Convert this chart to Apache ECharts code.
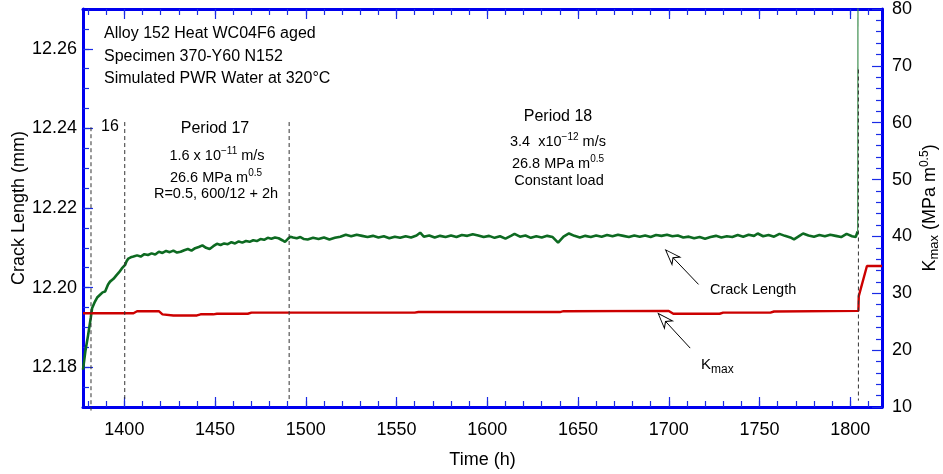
<!DOCTYPE html>
<html><head><meta charset="utf-8">
<script src="https://cdn.jsdelivr.net/npm/echarts@6/dist/echarts.min.js"></script>
<style>html,body{margin:0;padding:0;background:#fff}#c{width:943px;height:474px}</style>
</head><body><div id="c"></div>
<script>
// ---------- DATA ----------
const crackTime = [1377.2,1378.5,1380,1381.5,1382.2,1383.8,1385,1386.6,1388,1389.4,1391,1392.1,1394,1395.8,1397,1398.6,1400.4,1401.2,1402.2,1403.5,1405,1407,1409,1411,1413,1415,1417,1419,1421,1423,1425,1427,1429,1431,1433,1435,1437,1439,1441,1443,1445,1447,1449,1451,1453,1455,1457,1459,1461,1463,1465,1467,1469,1471,1473,1475,1477,1479,1481,1483,1485,1487,1488.5,1490,1491.5,1493,1495,1497,1499,
1501,1504,1507,1510,1513,1516,1519,1522,1525,1528,1531,1534,1537,1540,1543,1546,1549,1552,1555,1558,1561,1563,1565,1568,1571,1574,1577,1580,1583,1586,1589,1592,1595,1598,1601,1604,1607,1610,1613,1615,1618,1621,1624,1627,1630,1633,1636,1639,1642,1645,1648,1651,1654,1657,1660,1663,1666,1669,1672,1675,1678,1681,1684,1687,1690,1693,1696,1699,1702,1705,1708,1711,1714,1717,1720,1723,1726,1729,1732,1735,1738,1741,1744,1747,1749,1752,1755,1758,1761,1764,1767,1769,1772,1774,1777,1780,1783,1786,1789,1792,1795,1798,1801,1803,1804.1];
const crackMm = [12.1794,12.1840,12.1880,12.1925,12.1948,12.1965,12.1975,12.1982,12.1988,12.1990,12.2008,12.2015,12.2022,12.2032,12.2038,12.2048,12.2057,12.2066,12.2073,12.2076,12.2078,12.2081,12.2078,12.2084,12.2082,12.2086,12.2083,12.2090,12.2087,12.2092,12.2089,12.2093,12.2088,12.2090,12.2094,12.2097,12.2093,12.2099,12.2102,12.2106,12.2100,12.2097,12.2104,12.2110,12.2107,12.2111,12.2109,12.2114,12.2111,12.2116,12.2113,12.2117,12.2115,12.2119,12.2117,12.2122,12.2120,12.2125,12.2123,12.2126,12.2124,12.2119,12.2115,12.2122,12.2128,12.2126,12.2124,12.2127,12.2122,
12.2121,12.2125,12.2122,12.2126,12.2121,12.2125,12.2128,12.2133,12.2129,12.2133,12.2130,12.2127,12.2130,12.2126,12.2129,12.2124,12.2128,12.2125,12.2129,12.2126,12.2131,12.2138,12.2128,12.2131,12.2126,12.2130,12.2127,12.2131,12.2127,12.2132,12.2130,12.2134,12.2131,12.2127,12.2130,12.2125,12.2129,12.2123,12.2130,12.2135,12.2128,12.2131,12.2125,12.2129,12.2126,12.2130,12.2127,12.2113,12.2128,12.2136,12.2130,12.2126,12.2130,12.2127,12.2131,12.2128,12.2132,12.2129,12.2133,12.2130,12.2127,12.2131,12.2128,12.2131,12.2127,12.2132,12.2130,12.2133,12.2129,12.2131,12.2126,12.2128,12.2124,12.2127,12.2123,12.2127,12.2130,12.2126,12.2129,12.2127,12.2132,12.2128,12.2133,12.2130,12.2136,12.2129,12.2132,12.2128,12.2135,12.2130,12.2126,12.2121,12.2130,12.2136,12.2131,12.2128,12.2132,12.2129,12.2133,12.2130,12.2127,12.2135,12.2129,12.2127,12.2141];
const spikeTime = [1804.1, 1804.6];
const spikeMm = [12.2141, 12.40];
const kmaxTime = [1377.2,1405,1407,1419,1421,1427,1440,1442,1449,1451,1468,1470,1560,1562,1640,1642,1700,1702.5,1728,1730,1756,1758,1804.5,1804.7,1809.2,1817.5];
const kmaxValue = [26.5,26.5,26.85,26.85,26.3,26.1,26.1,26.3,26.3,26.4,26.4,26.6,26.6,26.7,26.7,26.85,26.9,26.4,26.4,26.6,26.6,26.8,26.9,29.5,34.8,34.8];
const periodLineTime = [1381.6, 1400.2, 1490.8, 1804.5];
const periodLineTop = [12.2403, 12.2416, 12.2416, 12.2548];
const periodLineBottom = [12.1691, 12.1716, 12.1716, 12.1716];
const xTickLabels = [1400,1450,1500,1550,1600,1650,1700,1750,1800];
const yLeftTickLabels = [12.18,12.20,12.22,12.24,12.26];
const yLeftMinorTicks = [12.175,12.18,12.185,12.19,12.195,12.20,12.205,12.21,12.215,12.22,12.225,12.23,12.235,12.24,12.245,12.25,12.255,12.26,12.265];
const xMinorTicks = [1380,1390,1400,1410,1420,1430,1440,1450,1460,1470,1480,1490,1500,1510,1520,1530,1540,1550,1560,1570,1580,1590,1600,1610,1620,1630,1640,1650,1660,1670,1680,1690,1700,1710,1720,1730,1740,1750,1760,1770,1780,1790,1800,1810];
// arrows: [tail, head] in (h, mm)
const crackArrow = [[1716.4, 12.2008], [1701.1, 12.2081]];
const kmaxArrow = [[1711.8, 12.1848], [1697.0, 12.1921]];

// ---------- STYLE ----------
const FF = "'Liberation Sans', Arial, sans-serif";
const BLUE = '#0000ee';
const TICK = '#1a2be6';
const X_MIN = 1377.2, X_MAX = 1817.5;
const Y_MIN = 12.17, Y_MAX = 12.27;

const zip = (a, b) => a.map((v, i) => [v, b[i]]);

function xAx(pos, major, extra) {
  return Object.assign({
    type: 'value', position: pos, min: X_MIN, max: X_MAX, gridIndex: 0,
    splitLine: {show: false},
    axisLine: {show: major, onZero: false, lineStyle: {color: BLUE, width: 3}},
    axisTick: {show: true, inside: true, length: major ? 10 : 6, customValues: major ? xTickLabels : xMinorTicks, lineStyle: {color: TICK, width: 1.2}},
    axisLabel: {show: false}
  }, extra || {});
}

const xAxes = [
  xAx('bottom', true, {
    axisLabel: {show: true, customValues: xTickLabels, formatter: v => String(v), margin: 14, fontSize: 18, fontFamily: FF, color: '#000', lineHeight: 18},
    name: 'Time (h)', nameLocation: 'middle', nameGap: 43, nameMoveOverlap: false,
    nameTextStyle: {fontSize: 18, fontFamily: FF, color: '#000', lineHeight: 20}
  }),
  xAx('bottom', false),
  xAx('top', true),
  xAx('top', false)
];

const yAxes = [
  {
    type: 'value', position: 'left', min: Y_MIN, max: Y_MAX, gridIndex: 0,
    splitLine: {show: false},
    axisLine: {show: true, onZero: false, lineStyle: {color: BLUE, width: 3}},
    axisTick: {show: true, inside: true, length: 10, customValues: yLeftTickLabels, lineStyle: {color: TICK, width: 1.2}},
    axisLabel: {show: true, customValues: yLeftTickLabels, formatter: v => v.toFixed(2), margin: 6, fontSize: 18, fontFamily: FF, color: '#000'},
    name: 'Crack Length (mm)', nameLocation: 'middle', nameGap: 54, nameMoveOverlap: false,
    nameTextStyle: {fontSize: 18, fontFamily: FF, color: '#000', lineHeight: 20}
  },
  {
    type: 'value', position: 'right', min: 10, max: 80, interval: 10, gridIndex: 0,
    splitLine: {show: false},
    axisLine: {show: true, onZero: false, lineStyle: {color: BLUE, width: 3}},
    axisTick: {show: true, inside: true, length: 10, lineStyle: {color: TICK, width: 1.2}},
    minorTick: {show: true, splitNumber: 5, length: 6, lineStyle: {color: TICK, width: 1.2}},
    minorSplitLine: {show: false},
    axisLabel: {show: true, margin: 10, fontSize: 18, fontFamily: FF, color: '#000'},
    name: '{k|K}{sub|max}{m| (MPa m}{s|0.5}{m|)}', nameLocation: 'middle', nameGap: 37, nameRotate: 90, nameMoveOverlap: false,
    nameTextStyle: {
      color: '#000', fontFamily: FF, fontSize: 18,
      rich: {
        k: {fontSize: 18, fontFamily: FF, lineHeight: 22, color: '#000'},
        sub: {fontSize: 13, fontFamily: FF, lineHeight: 8, verticalAlign: 'bottom', color: '#000'},
        m: {fontSize: 18, fontFamily: FF, lineHeight: 22, color: '#000'},
        s: {fontSize: 12, fontFamily: FF, lineHeight: 8, verticalAlign: 'top', color: '#000'}
      }
    }
  },
  {
    type: 'value', position: 'left', min: Y_MIN, max: Y_MAX, gridIndex: 0,
    splitLine: {show: false},
    axisLine: {show: false, onZero: false},
    axisTick: {show: true, inside: true, length: 6, customValues: yLeftMinorTicks, lineStyle: {color: TICK, width: 1.2}},
    axisLabel: {show: false}
  }
];

const series = [
  {type: 'line', name: 'Crack Length', xAxisIndex: 0, yAxisIndex: 0, data: zip(crackTime, crackMm), symbol: 'none',
   lineStyle: {color: '#0d6a21', width: 2.6}, clip: true, z: 3},
  {type: 'line', xAxisIndex: 0, yAxisIndex: 0, data: zip(spikeTime, spikeMm), symbol: 'none',
   lineStyle: {color: '#3f8f50', width: 1.2}, clip: true, z: 3},
  {type: 'line', name: 'Kmax', xAxisIndex: 0, yAxisIndex: 1, data: zip(kmaxTime, kmaxValue), symbol: 'none',
   lineStyle: {color: '#cc0000', width: 2.4}, clip: true, z: 3}
];
periodLineTime.forEach((t, i) => {
  series.push({type: 'line', xAxisIndex: 0, yAxisIndex: 0, data: [[t, periodLineTop[i]], [t, periodLineBottom[i]]],
    symbol: 'none', clip: false, lineStyle: {color: '#333', width: 1, type: [4, 3]}, z: 4, silent: true});
});
const ARROW = 'path://M5,0 L10,14 L5,10 L0,14 Z';
[[crackArrow, 43.5], [kmaxArrow, 43]].forEach(([a, rot]) => {
  series.push({type: 'line', xAxisIndex: 0, yAxisIndex: 0, showSymbol: true, symbol: 'emptyCircle', clip: false, z: 5,
    lineStyle: {color: '#000', width: 1}, itemStyle: {color: '#fff', borderColor: '#000', borderWidth: 1},
    data: [{value: a[0], symbol: 'none'}, {value: a[1], symbol: ARROW, symbolSize: [11, 15], symbolRotate: rot}]});
});

function txt(x, y, text, size, align, rich) {
  const st = {text: text, x: 0, y: 0, font: size + 'px ' + FF, fill: '#000',
    align: align || 'center', verticalAlign: 'middle', textAlign: align || 'center', textVerticalAlign: 'middle'};
  if (rich) st.rich = rich;
  return {type: 'text', x: x, y: y, z: 10, style: st, silent: true};
}
const supRich = (fs) => ({
  m: {fontSize: fs, fontFamily: FF, lineHeight: 20, fill: '#000'},
  s: {fontSize: 10, fontFamily: FF, lineHeight: 8, verticalAlign: 'top', fill: '#000'}
});
const graphics = [
  txt(104, 34, 'Alloy 152 Heat WC04F6 aged', 16, 'left'),
  txt(104, 57, 'Specimen 370-Y60 N152', 16, 'left'),
  txt(104, 79, 'Simulated PWR Water at 320°C', 16, 'left'),
  txt(110, 127, '16', 16),
  txt(215, 129, 'Period 17', 16),
  txt(217, 156, '{m|1.6 x 10}{s|−11}{m| m/s}', 14.5, 'center', supRich(14.5)),
  txt(216, 178, '{m|26.6 MPa m}{s|0.5}', 14.5, 'center', supRich(14.5)),
  txt(216, 194, 'R=0.5, 600/12 + 2h', 14.5),
  txt(558, 117, 'Period 18', 16),
  txt(558, 142, '{m|3.4  x10}{s|−12}{m| m/s}', 14.5, 'center', supRich(14.5)),
  txt(558, 164, '{m|26.8 MPa m}{s|0.5}', 14.5, 'center', supRich(14.5)),
  txt(559, 181, 'Constant load', 14.5),
  txt(710, 290, 'Crack Length', 14.5, 'left'),
  txt(701, 365, '{k|K}{b|max}', 15, 'left', {
    k: {fontSize: 15, fontFamily: FF, lineHeight: 22, fill: '#000'},
    b: {fontSize: 12, fontFamily: FF, lineHeight: 6, verticalAlign: 'bottom', fill: '#000'}
  })
];

const chart = echarts.init(document.getElementById('c'), null, {renderer: 'canvas'});
chart.setOption({
  animation: false,
  backgroundColor: '#fff',
  grid: {left: 83, right: 61, top: 9, bottom: 67, containLabel: false, outerBoundsMode: 'none'},
  xAxis: xAxes,
  yAxis: yAxes,
  series: series,
  graphic: graphics
});
</script>
</body></html>
